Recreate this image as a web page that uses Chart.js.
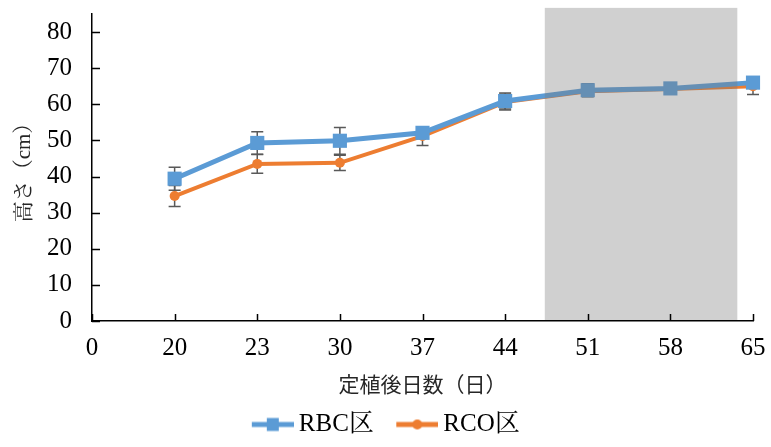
<!DOCTYPE html>
<html><head><meta charset="utf-8">
<script src="https://cdn.jsdelivr.net/npm/chart.js@4.4.1/dist/chart.umd.min.js"></script>
<style>html,body{margin:0;padding:0;background:#fff}#wrap{width:771px;height:447px;position:relative}</style>
</head><body><div id="wrap"><canvas id="c"></canvas></div>
<script>
// Days after planting (category labels)
const days = ['0', '20', '23', '30', '37', '44', '51', '58', '65'];
// Plant height (cm), mean and error per plot
const rbcHeight = [null, 39.4, 49.3, 49.9, 52.1, 60.9, 63.9, 64.4, 66.0];
const rbcErr    = [null, 3.2, 3.1, 3.7, 1.2, 2.2, 1.8, 1.0, 0.6];
const rcoHeight = [null, 34.6, 43.5, 43.8, 51.2, 60.6, 63.6, 64.2, 65.0];
const rcoErr    = [null, 2.9, 2.6, 2.1, 2.6, 2.2, 1.2, 1.0, 2.3];
const seriesNames = ['RBC区', 'RCO区'];
const yTicks = [0, 10, 20, 30, 40, 50, 60, 70, 80];

const BLUE = '#5B9BD5', ORANGE = '#ED7D31';
const SERIF = '"Liberation Serif", "Noto Serif CJK JP", "Noto Sans CJK JP", serif';
const CJK = '"Noto Sans CJK JP", sans-serif';

// shaded period, in category-index units
const shadeFrom = 5.48, shadeTo = 7.81;

// legend icon: line with marker, drawn into an offscreen canvas
function legendIcon(color, shape) {
  const lead = 26, w = 42, h = 20;
  const cv = document.createElement('canvas');
  cv.width = lead + w; cv.height = h;
  const g = cv.getContext('2d');
  g.strokeStyle = color; g.lineWidth = 5;
  g.beginPath(); g.moveTo(lead, h / 2); g.lineTo(lead + w, h / 2); g.stroke();
  g.fillStyle = color;
  const cx = lead + w / 2;
  if (shape === 'rect') g.fillRect(cx - 6, h / 2 - 6.5, 12, 13);
  else { g.beginPath(); g.arc(cx, h / 2, 5, 0, Math.PI * 2); g.fill(); }
  return cv;
}

const errorBars = {
  id: 'errorBars',
  beforeDatasetsDraw(chart) {
    const { ctx, scales: { x, y } } = chart;
    const errs = [rbcErr, rcoErr];
    ctx.save();
    ctx.strokeStyle = '#595959';
    ctx.lineWidth = 1.5;
    chart.data.datasets.forEach((ds, i) => {
      ds.data.forEach((v, j) => {
        const e = errs[i][j];
        if (v == null || e == null) return;
        const px = x.getPixelForValue(j);
        const yt = y.getPixelForValue(v + e), yb = y.getPixelForValue(v - e);
        ctx.beginPath();
        ctx.moveTo(px, yt); ctx.lineTo(px, yb);
        ctx.moveTo(px - 6, yt); ctx.lineTo(px + 6, yt);
        ctx.moveTo(px - 6, yb); ctx.lineTo(px + 6, yb);
        ctx.stroke();
      });
    });
    ctx.restore();
  }
};

const shade = {
  id: 'shade',
  afterDatasetsDraw(chart) {
    const { ctx, chartArea, scales: { x, y } } = chart;
    const x1 = x.getPixelForValue(shadeFrom), x2 = x.getPixelForValue(shadeTo);
    const yt = y.getPixelForValue(86.7);
    ctx.save();
    ctx.fillStyle = 'rgba(120,120,120,0.35)';
    ctx.fillRect(x1, yt, x2 - x1, chartArea.bottom - 1 - yt);
    ctx.restore();
  }
};

const innerTicks = {
  id: 'innerTicks',
  afterDraw(chart) {
    const { ctx, chartArea, scales: { x, y } } = chart;
    ctx.save();
    ctx.strokeStyle = '#000';
    ctx.lineWidth = 1.5;
    ctx.beginPath();
    y.ticks.forEach(t => {
      const py = Math.round(y.getPixelForValue(t.value)) + 0.5;
      ctx.moveTo(chartArea.left, py); ctx.lineTo(chartArea.left + 8, py);
    });
    x.ticks.forEach((t, i) => {
      const px = Math.round(x.getPixelForValue(i)) + 0.5;
      ctx.moveTo(px, chartArea.bottom); ctx.lineTo(px, chartArea.bottom - 7);
    });
    ctx.stroke();
    ctx.restore();
  }
};

function noEdgePadding(s) {
  s.paddingLeft = 0; s.paddingRight = 0; s.paddingTop = 0; s.paddingBottom = 0;
}

const icons = [legendIcon(BLUE, 'rect'), legendIcon(ORANGE, 'circle')];

new Chart(document.getElementById('c'), {
  type: 'line',
  data: {
    labels: days,
    datasets: [
      { label: seriesNames[0], data: rbcHeight, borderColor: BLUE, backgroundColor: BLUE,
        borderWidth: 5, pointStyle: 'rect', pointRadius: 10, pointHoverRadius: 10,
        pointBorderWidth: 0, clip: false },
      { label: seriesNames[1], data: rcoHeight, borderColor: ORANGE, backgroundColor: ORANGE,
        borderWidth: 4, pointStyle: 'circle', pointRadius: 5, pointHoverRadius: 5,
        pointBorderWidth: 0, clip: false }
    ]
  },
  options: {
    responsive: true,
    maintainAspectRatio: false,
    animation: false,
    events: [],
    layout: { padding: { top: 14, right: 18, left: 0, bottom: 0 } },
    scales: {
      x: {
        offset: false,
        grid: { display: false, drawTicks: false },
        border: { display: true, color: '#000', width: 1.5 },
        ticks: { color: '#000', font: { family: SERIF, size: 25 }, padding: 12, maxRotation: 0, autoSkip: false },
        title: { display: true, text: '定植後日数（日）', color: '#262626',
          font: { family: CJK, size: 21 }, padding: { top: 0, bottom: 11 } },
        afterFit(s) { s.height = 87; noEdgePadding(s); }
      },
      y: {
        min: 0, max: 85,
        grid: { display: false, drawTicks: false },
        border: { display: true, color: '#000', width: 1.5 },
        ticks: { color: '#000', font: { family: SERIF, size: 25 }, padding: 20, stepSize: 10 },
        afterBuildTicks(s) { s.ticks = yTicks.map(v => ({ value: v })); },
        title: { display: true, text: '高さ（cm）', color: '#262626',
          font: { family: SERIF, size: 21 }, padding: { top: 12, bottom: 0 } },
        afterFit(s) { s.width = 92; noEdgePadding(s); }
      }
    },
    plugins: {
      tooltip: { enabled: false },
      legend: {
        position: 'bottom',
        labels: {
          color: '#000',
          font: { family: SERIF, size: 25 },
          usePointStyle: true,
          pointStyleWidth: 53,
          padding: 4,
          generateLabels(chart) {
            return chart.data.datasets.map((ds, i) => ({
              text: ds.label, pointStyle: icons[i], fillStyle: ds.borderColor,
              strokeStyle: ds.borderColor, lineWidth: 0, hidden: false, datasetIndex: i,
              fontColor: '#000'
            }));
          }
        }
      }
    }
  },
  plugins: [errorBars, shade, innerTicks]
});
</script>
</body></html>
